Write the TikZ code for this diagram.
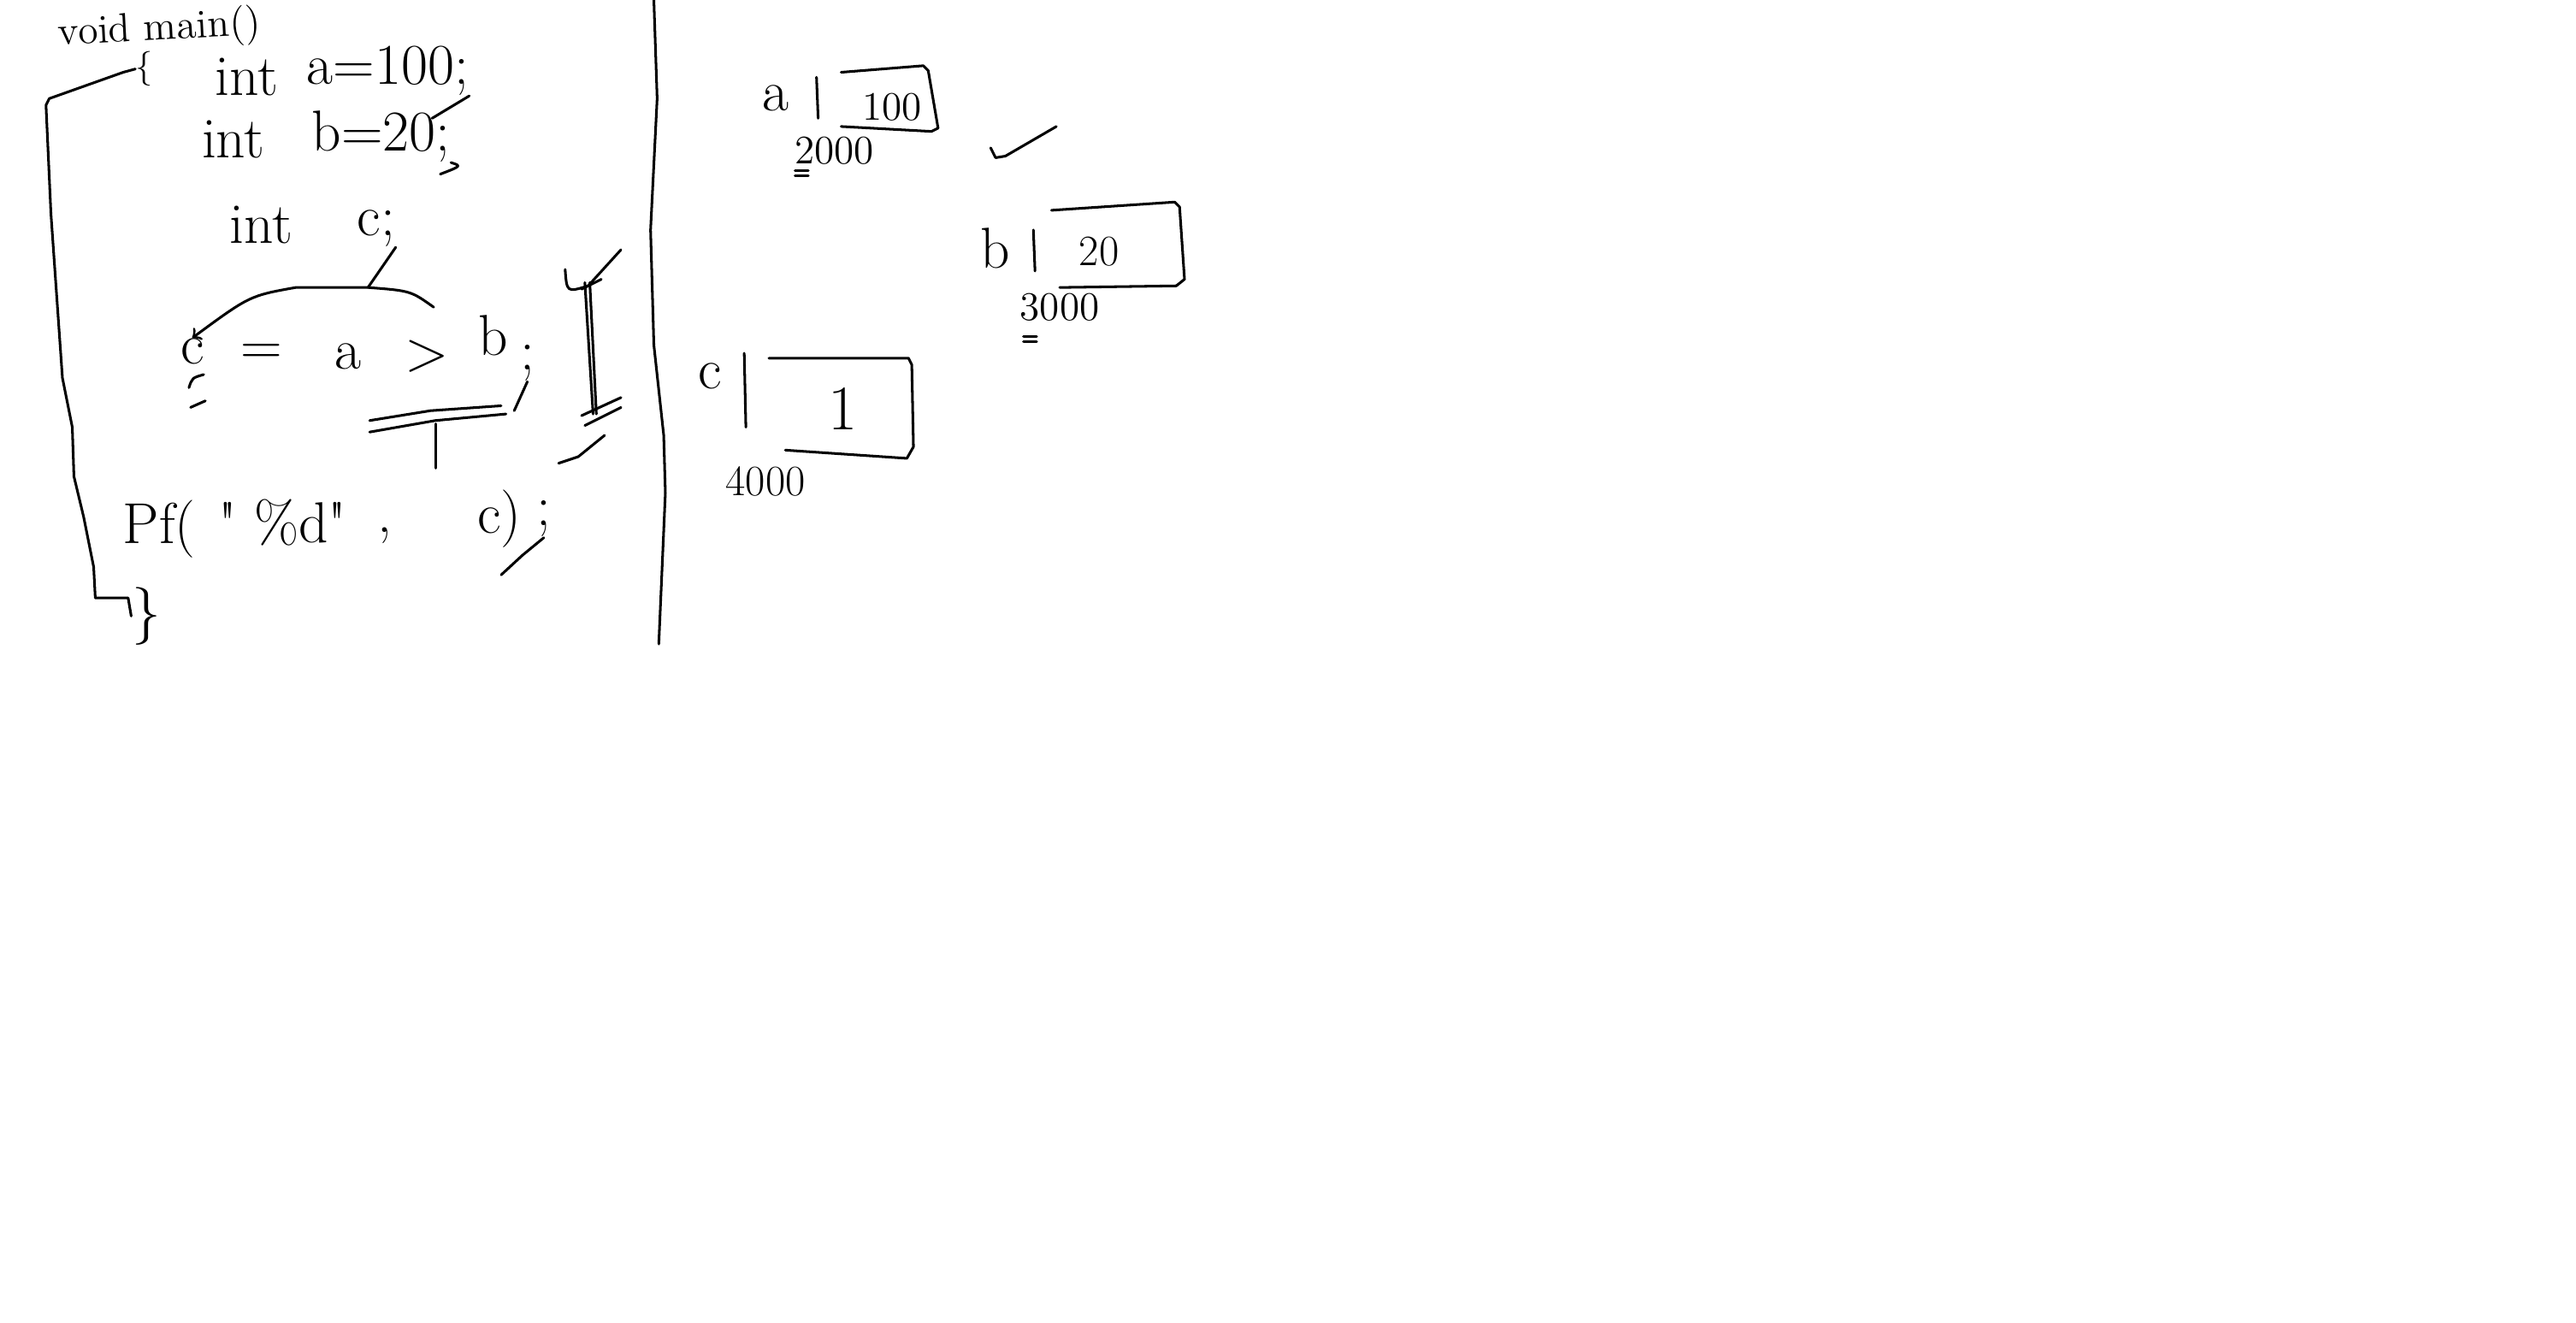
\documentclass[tikz,border=0pt]{standalone}
\usepackage{tikz}

\begin{document}
\begin{tikzpicture}[x=0.02cm, y=-0.02cm,
  hand/.style={line width=0.9pt, line cap=round, line join=round},
  code/.style={font=\fontsize{20}{24}\selectfont, inner sep=0pt},
  addr/.style={font=\fontsize{14}{16}\selectfont, inner sep=0pt}]
  \useasboundingbox (0,0) rectangle (1568,805);
  % Code
  \node[font=\fontsize{14}{16}\selectfont, rotate=3, inner sep=0pt] (head) at (97,18) {void main()};
  \node[code, font=\fontsize{12}{14}\selectfont] (open) at (88,42) {\{};
  \node[code] (inta) at (150,47) {int};
  \node[code] (aini) at (236,43) {a=100;};
  \node[code] (intb) at (142,85) {int};
  \node[code] (bini) at (232,83) {b=20;};
  \node[code] (intc) at (159,137) {int};
  \node[code] (cdec) at (229,139) {c;};
  \node[code] (cvar) at (117,214) {c};
  \node[code] (eqs) at (159,216) {=};
  \node[code] (avar) at (212,217) {a};
  \node[code] (gts) at (260,217) {>};
  \node[code] (bvar) at (300,204) {b};
  \node[code] (bsemi) at (321,221) {;};
  \node[code] (pf) at (97,322) {Pf(};
  \node[code] (fmt) at (172,318) {\textquotedbl\ \%d\textquotedbl};
  \node[code] (comma) at (234,326) {,};
  \node[code] (pfend) at (304,316) {c)};
  \node[code] (pfsemi) at (331,316) {;};
  \node[code] (close) at (89,375) {\}};
  % Klammer links
  \draw[hand] (open.west) -- (75,44) -- (30,60) -- (28,64) -- (31,130) -- (38,230)
    -- (44,260) -- (45,290) -- (51,315) -- (57,345) -- (58,364) -- (78,364) -- (close.west);
  % Striche
  \draw[hand] (aini.south east) -- (263,72);
  \draw[hand] (bini.south east) .. controls (281,101) .. (268,106);
  \draw[hand] (bsemi.south) -- (313,250);
  \draw[hand] (pfsemi.south) -- (318,338) -- (305,350);
  % c wird zugewiesen
  \coordinate (split) at (224,175);
  \coordinate (bend) at (264,187);
  \draw[hand] (cdec.south east) -- (split);
  \draw[hand, ->] (bend) .. controls (250,177) .. (split) -- (180,175)
    .. controls (152,180) .. (cvar.north);
  \draw[hand] (115,236) .. controls (117,230) .. (124,228) (116,248) -- (125,244);
  % Vergleich
  \coordinate (cmp) at (265,258);
  \draw[hand] (225,256) -- (262,250) -- (305,247) (225,263) -- (265,256) -- (308,252);
  \draw[hand] (cmp) -- (265,285);
  % I-Balken
  \draw[hand] (356,172) -- (361,252) (359,172) -- (363,252);
  \draw[hand] (344,164) .. controls (345,178) .. (358,174) -- (378,152);
  \draw[hand] (354,176) -- (366,170);
  \draw[hand] (354,253) -- (378,242) (356,259) -- (378,248);
  \draw[hand] (340,282) -- (352,278) -- (368,265);
  % Trennlinie
  \draw[hand] (398,0) -- (400,60) -- (396,140) -- (398,210) -- (404,265) -- (405,300) -- (401,392);
  % Speicher a
  \node[code] (aname) at (472,60) {a};
  \draw[hand] (497,47) -- (498,72);
  \draw[hand] (512,44) -- (562,40) -- (565,43) -- (571,78) -- (567,80) -- (512,77);
  \node[addr] (aval) at (543,65) {100};
  \node[addr] (aaddr) at (508,92) {2000};
  \draw[hand] (484,104) -- (492,104) (484,107) -- (492,107);
  \draw[hand] (603,90) -- (606,96) -- (612,95) -- (643,77);
  % Speicher b
  \node[code] (bname) at (606,151) {b};
  \draw[hand] (629,140) -- (630,165);
  \draw[hand] (640,128) -- (715,123) -- (718,126) -- (721,170) -- (716,174) -- (645,175);
  \node[addr, font=\fontsize{15}{18}\selectfont] (bval) at (669,153) {20};
  \node[addr] (baddr) at (645,187) {3000};
  \draw[hand] (623,205) -- (631,205) (623,208) -- (631,208);
  % Speicher c
  \node[code] (cname) at (432,229) {c};
  \draw[hand] (453,215) -- (454,260);
  \draw[hand] (468,218) -- (553,218) -- (555,222) -- (556,272) -- (552,279) -- (478,274);
  \node[code, font=\fontsize{22}{26}\selectfont] (cval) at (513,249) {1};
  \node[addr, font=\fontsize{15}{18}\selectfont] (caddr) at (466,293) {4000};
\end{tikzpicture}
\end{document}
